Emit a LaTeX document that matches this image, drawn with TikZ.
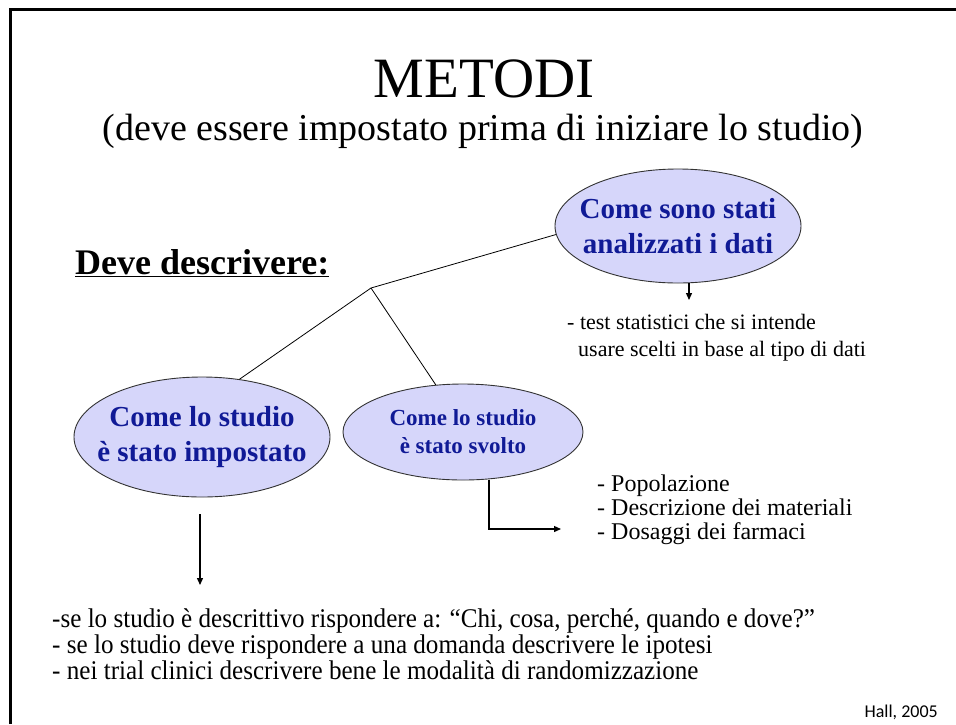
\documentclass[tikz,border=0pt]{standalone}
\usepackage{fontspec}
\setmainfont{Liberation Serif}
\newfontfamily\stretta[FakeStretch=0.93]{Liberation Serif}
\newfontfamily\calibri{Carlito}
\usetikzlibrary{shapes.geometric,arrows.meta}
\definecolor{blumetodi}{RGB}{16,26,150}
\definecolor{lilla}{RGB}{214,214,250}
\tikzset{
  ovale/.style={ellipse, draw=black!80, line width=0.9pt, fill=lilla, inner xsep=-22pt, inner ysep=0pt, align=center, text=blumetodi},
  riga/.style={anchor=base west, inner sep=0pt},
  freccia/.style={->, >={Triangle[length=7pt,width=6pt]}, line width=1.3pt},
  ramo/.style={line width=0.8pt},
}
\begin{document}
\begin{tikzpicture}[x=1pt,y=-1pt]
\useasboundingbox (0,0) rectangle (956,724);
% Frame
\draw[line width=3pt] (10,724) -- (10,9) -- (956,9);

% Titles
\node[anchor=base, inner sep=0pt, font=\fontsize{57}{60}\selectfont] (titolo) at (484,97) {METODI};
\node[anchor=base, inner sep=0pt, font=\fontsize{38}{42}\selectfont] (sottotitolo) at (483,140) {(deve essere impostato prima di iniziare lo studio)};
\node[riga, font=\fontsize{36}{40}\selectfont\bfseries] (descrivere) at (75,274) {\underline{Deve descrivere:}};

% Ellipses
\node[ovale, minimum width=246, minimum height=114, font=\fontsize{29}{35}\selectfont\bfseries] (analisi) at (678,226) {Come sono stati\\analizzati i dati};
\node[ovale, minimum width=256, minimum height=120, font=\fontsize{29}{35}\selectfont\bfseries] (impostato) at (202,437) {Come lo studio\\è stato impostato};
\node[ovale, minimum width=240, minimum height=96, font=\fontsize{23}{28}\selectfont\bfseries] (svolto) at (463,432) {Come lo studio\\è stato svolto};

% Branches
\coordinate (bivio) at (371,288);
\draw[ramo] (bivio) -- (analisi.184);
\draw[ramo] (bivio) -- (impostato.57);
\draw[ramo] (bivio) -- (svolto.120);

% Arrows
\coordinate (testpunta) at (689,300);
\draw[freccia] (analisi.south -| testpunta) -- (testpunta);
\coordinate (impinizio) at (200,514);
\coordinate (imppunta) at (200,585);
\draw[freccia] (impinizio) -- (imppunta);
\coordinate (gomito) at (489,529);
\coordinate (svoltopunta) at (561,529);
\draw[freccia] (svolto.south -| gomito) -- (gomito) -- (svoltopunta);

% Texts
\node[riga, font=\fontsize{22}{26}\selectfont] (test1) at (567,329) {- test statistici che si intende};
\node[riga, font=\fontsize{22}{26}\selectfont] (test2) at (578,356) {usare scelti in base al tipo di dati};
\node[riga, font=\fontsize{24}{26}\selectfont] (pop) at (597,491) {- Popolazione};
\node[riga, font=\fontsize{24}{26}\selectfont] (mat) at (597,515) {- Descrizione dei materiali};
\node[riga, font=\fontsize{24}{26}\selectfont] (dos) at (597,539) {- Dosaggi dei farmaci};
\node[riga, font=\stretta\fontsize{27}{26}\selectfont] (riga1) at (52,627) {-se lo studio è descrittivo rispondere a: “Chi, cosa, perché, quando e dove?”};
\node[riga, font=\stretta\fontsize{27}{26}\selectfont] (riga2) at (52,653) {- se lo studio deve rispondere a una domanda descrivere le ipotesi};
\node[riga, font=\stretta\fontsize{27}{26}\selectfont] (riga3) at (52,679) {- nei trial clinici descrivere bene le modalità di randomizzazione};
\node[anchor=base east, inner sep=0pt, font=\calibri\fontsize{18}{20}\selectfont] (fonte) at (938,717) {Hall, 2005};
\end{tikzpicture}
\end{document}
